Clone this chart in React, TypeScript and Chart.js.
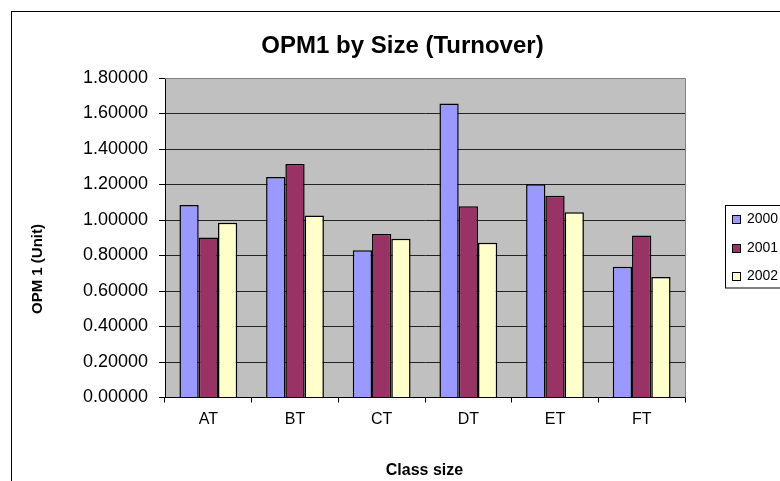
import React, { useEffect, useRef } from "react";
import { Chart, registerables } from "chart.js";

Chart.register(...registerables);

const categories = ["AT", "BT", "CT", "DT", "ET", "FT"];
const seriesNames = ["2000", "2001", "2002"];
const values2000 = [1.084, 1.242, 0.829, 1.657, 1.201, 0.737];
const values2001 = [0.902, 1.315, 0.921, 1.077, 1.137, 0.912];
const values2002 = [0.985, 1.026, 0.895, 0.872, 1.043, 0.679];
const seriesColors = ["#9999FF", "#993366", "#FFFFCC"];
const yMin = 0;
const yMax = 1.8;
const yStep = 0.2;
const chartTitle = "OPM1 by Size (Turnover)";
const xTitle = "Class size";
const yTitle = "OPM 1 (Unit)";

const FONT = "'Liberation Sans', Arial, Helvetica, sans-serif";

const decor = {
  id: "decor",
  beforeDraw(chart: any) {
    const { ctx, chartArea: a } = chart;
    ctx.save();
    ctx.fillStyle = "#fff";
    ctx.fillRect(0, 0, chart.width, chart.height);
    ctx.strokeStyle = "#000";
    ctx.lineWidth = 1;
    ctx.strokeRect(11.5, 11.5, 1000, 1000);
    ctx.fillStyle = "#C0C0C0";
    ctx.fillRect(a.left, a.top, a.right - a.left, a.bottom - a.top);
    ctx.restore();
  },
  beforeDatasetsDraw(chart: any) {
    const { ctx, chartArea: a } = chart;
    ctx.save();
    ctx.strokeStyle = "#808080";
    ctx.lineWidth = 1;
    ctx.beginPath();
    ctx.moveTo(a.left, Math.round(a.top) + 0.5);
    ctx.lineTo(Math.round(a.right) + 0.5, Math.round(a.top) + 0.5);
    ctx.lineTo(Math.round(a.right) + 0.5, a.bottom);
    ctx.stroke();
    ctx.restore();
  },
  afterDraw(chart: any) {
    const { ctx } = chart;
    ctx.save();
    ctx.fillStyle = "#000";
    ctx.textAlign = "center";
    ctx.textBaseline = "middle";
    ctx.font = `bold 24px ${FONT}`;
    ctx.fillText(chartTitle, 402.5, 46);
    ctx.font = `bold 16px ${FONT}`;
    ctx.fillText(xTitle, 424.5, 471);
    ctx.save();
    ctx.translate(38, 269);
    ctx.rotate(-Math.PI / 2);
    ctx.font = `bold 15px ${FONT}`;
    ctx.fillText(yTitle, 0, 0);
    ctx.restore();

    // legend
    ctx.strokeStyle = "#000";
    ctx.lineWidth = 1;
    ctx.strokeRect(725.5, 205.5, 200, 82.5);
    ctx.textAlign = "left";
    ctx.font = `14px ${FONT}`;
    seriesNames.forEach((name, i) => {
      const cy = 219 + i * 28.5;
      ctx.fillStyle = seriesColors[i];
      ctx.fillRect(732, Math.round(cy - 4), 8, 8);
      ctx.strokeRect(732.5, Math.round(cy - 4) + 0.5, 8, 8);
      ctx.fillStyle = "#000";
      ctx.fillText(name, 747, cy + 0.5);
    });
    ctx.restore();
  },
};

export default function App() {
  const ref = useRef<HTMLCanvasElement | null>(null);
  useEffect(() => {
    if (!ref.current) return;
    const allValues = [values2000, values2001, values2002];
    const chart = new Chart(ref.current, {
      type: "bar",
      data: {
        labels: categories,
        datasets: seriesNames.map((name, i) => ({
          label: name,
          data: allValues[i],
          backgroundColor: seriesColors[i],
          borderColor: "#000",
          borderWidth: 1.5,
          categoryPercentage: 0.667,
          barPercentage: 1,
        })),
      },
      options: {
        responsive: false,
        animation: false,
        devicePixelRatio: 1,
        layout: { padding: { left: 0, top: 78, right: 95, bottom: 53.5 } },
        plugins: {
          legend: { display: false },
          title: { display: false },
          tooltip: { enabled: false },
        },
        scales: {
          x: {
            offset: true,
            grid: {
              offset: true,
              drawOnChartArea: false,
              drawTicks: true,
              tickLength: 5,
              tickColor: "#000",
              color: "#000",
            },
            border: { color: "#000", width: 1 },
            ticks: {
              color: "#000",
              padding: 7,
              font: { family: FONT, size: 16 },
              maxRotation: 0,
            },
            afterFit: (s: any) => {
              s.height = 30;
            },
          },
          y: {
            min: yMin,
            max: yMax,
            grid: {
              color: (c: any) =>
                c.tick && Math.abs(c.tick.value - yMax) < 1e-6 ? "#808080" : "#222",
              tickColor: "#000",
              tickLength: 6,
              lineWidth: 1,
            },
            border: { color: "#000", width: 1 },
            ticks: {
              stepSize: yStep,
              color: "#000",
              padding: 11,
              font: { family: FONT, size: 18 },
              callback: (v: any) => Number(v).toFixed(5),
            },
            afterFit: (s: any) => {
              s.width = 165;
            },
          },
        },
      },
      plugins: [decor],
    });
    return () => chart.destroy();
  }, []);
  return (
    <div style={{ position: "absolute", left: 0, top: 0, width: 780, height: 481 }}>
      <canvas ref={ref} width={780} height={481} style={{ width: 780, height: 481, display: "block" }} />
    </div>
  );
}
